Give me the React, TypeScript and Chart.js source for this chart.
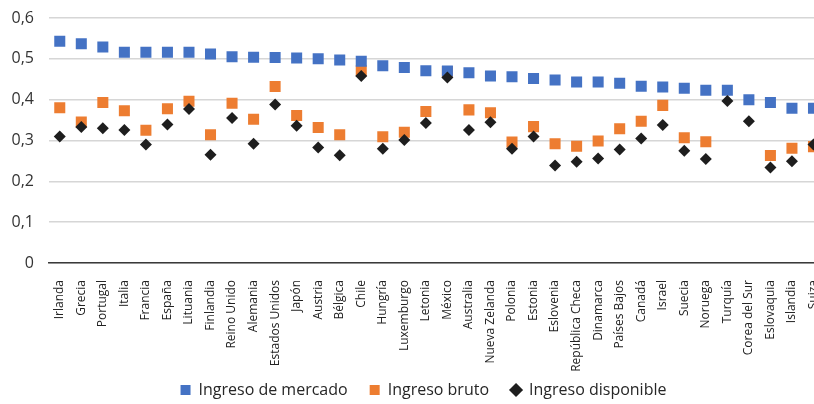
import React, { useEffect, useRef } from "react";
import { Chart, registerables } from "chart.js";

Chart.register(...registerables);

const countries = [
  "Irlanda", "Grecia", "Portugal", "Italia", "Francia", "España", "Lituania",
  "Finlandia", "Reino Unido", "Alemania", "Estados Unidos", "Japón", "Austria",
  "Bélgica", "Chile", "Hungría", "Luxemburgo", "Letonia", "México", "Australia",
  "Nueva Zelanda", "Polonia", "Estonia", "Eslovenia", "República Checa",
  "Dinamarca", "Países Bajos", "Canadá", "Israel", "Suecia", "Noruega", "Turquía",
  "Corea del Sur", "Eslovaquia", "Islandia", "Suiza",
];

const marketIncome = [
  0.543, 0.537, 0.529, 0.516, 0.516, 0.516, 0.516, 0.512, 0.505, 0.504, 0.503,
  0.502, 0.5, 0.497, 0.494, 0.483, 0.479, 0.471, 0.47, 0.466, 0.458, 0.456,
  0.452, 0.448, 0.443, 0.443, 0.44, 0.433, 0.431, 0.428, 0.423, 0.423, 0.4,
  0.393, 0.379, 0.379,
];

const grossIncome = [
  0.38, 0.345, 0.393, 0.373, 0.325, 0.378, 0.396, 0.314, 0.391, 0.352, 0.432,
  0.361, 0.332, 0.314, 0.471, 0.309, 0.32, 0.371, 0.469, 0.375, 0.368, 0.296,
  0.334, 0.292, 0.286, 0.299, 0.329, 0.347, 0.386, 0.307, 0.297, null, null,
  0.263, 0.281, 0.285,
];

const disposableIncome = [
  0.31, 0.333, 0.33, 0.326, 0.29, 0.339, 0.377, 0.265, 0.355, 0.292, 0.388,
  0.336, 0.283, 0.264, 0.458, 0.28, 0.301, 0.343, 0.454, 0.326, 0.345, 0.28,
  0.31, 0.239, 0.248, 0.256, 0.278, 0.305, 0.338, 0.275, 0.255, 0.397, 0.347,
  0.234, 0.249, 0.29,
];

const seriesNames = ["Ingreso de mercado", "Ingreso bruto", "Ingreso disponible"];
const yMin = 0;
const yMax = 0.6;
const yStep = 0.1;

const FONT = "'Open Sans', 'Noto Sans', sans-serif";

// let the rotated x labels run down to the canvas bottom instead of being clipped
const extendLabelClip = {
  id: "extendLabelClip",
  afterLayout(chart: any) {
    const x = chart.scales.x;
    if (x) x.bottom = chart.height;
  },
};

export default function App() {
  const canvasRef = useRef<HTMLCanvasElement | null>(null);

  useEffect(() => {
    const canvas = canvasRef.current;
    if (!canvas) return;
    const chart = new Chart(canvas, {
      type: "line",
      data: {
        labels: countries,
        datasets: [
          {
            label: seriesNames[0],
            data: marketIncome,
            showLine: false,
            pointStyle: "rect",
            pointRadius: 7.8,
            pointHoverRadius: 7.8,
            backgroundColor: "#4472C4",
            borderColor: "#4472C4",
            pointBorderWidth: 0,
            borderWidth: 0,
            order: 1,
          },
          {
            label: seriesNames[1],
            data: grossIncome,
            showLine: false,
            pointStyle: "rect",
            pointRadius: 7.8,
            pointHoverRadius: 7.8,
            backgroundColor: "#ED7D31",
            borderColor: "#ED7D31",
            pointBorderWidth: 0,
            borderWidth: 0,
            order: 2,
          },
          {
            label: seriesNames[2],
            data: disposableIncome,
            showLine: false,
            pointStyle: "rectRot",
            pointRadius: 6,
            pointHoverRadius: 6,
            backgroundColor: "#1E1E1E",
            borderColor: "#1E1E1E",
            pointBorderWidth: 0,
            borderWidth: 0,
            order: 0,
          },
        ],
      },
      options: {
        responsive: false,
        animation: false,
        devicePixelRatio: 1,
        layout: { padding: { top: 18, left: 12, right: 2, bottom: 0 } },
        plugins: {
          tooltip: { enabled: false },
          legend: {
            position: "bottom",
            maxHeight: 44,
            labels: {
              usePointStyle: true,
              boxWidth: 10,
              boxHeight: 10,
              padding: 22,
              color: "#262626",
              font: { family: FONT, size: 16 },
              sort: (a: any, b: any) => a.datasetIndex - b.datasetIndex,
            },
          },
        },
        scales: {
          x: {
            type: "category",
            offset: true,
            grid: { display: false },
            border: { display: true, color: "#3a3a3a", width: 1.5 },
            ticks: {
              autoSkip: false,
              minRotation: 90,
              maxRotation: 90,
              padding: 9,
              color: "#222",
              font: { family: FONT, size: 12 },
            },
            afterFit: (scale: any) => {
              scale.height = 97;
            },
          },
          y: {
            min: yMin,
            max: yMax,
            border: { display: false },
            grid: { color: "#D6D6D6", lineWidth: 1.5, drawTicks: false },
            ticks: {
              stepSize: yStep,
              padding: 15,
              color: "#333",
              font: { family: FONT, size: 16 },
              callback: (v: any) =>
                Number(v) === 0 ? "0" : Number(v).toFixed(1).replace(".", ","),
            },
            afterFit: (scale: any) => {
              scale.width = 37;
              scale.paddingTop = 0;
              scale.paddingBottom = 0;
            },
          },
        },
      },
      plugins: [extendLabelClip],
    });
    return () => chart.destroy();
  }, []);

  return (
    <div
      style={{
        position: "fixed",
        left: 0,
        top: 0,
        width: 814,
        height: 404,
        overflow: "hidden",
        background: "#fff",
      }}
    >
      <canvas
        ref={canvasRef}
        width={837}
        height={404}
        style={{ display: "block", width: 837, height: 404 }}
      />
    </div>
  );
}
